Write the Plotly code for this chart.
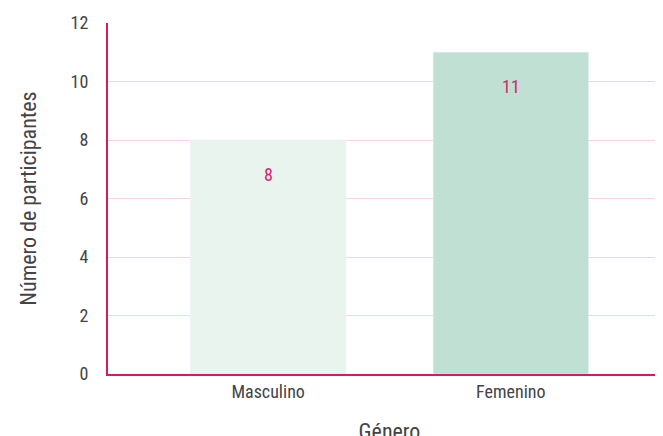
import plotly.graph_objects as go

categories = ["Masculino", "Femenino"]
values = [8, 11]
colors = ["#eaf4ef", "#bfe0d3"]

fig = go.Figure(go.Bar(x=categories, y=values, marker_color=colors, width=0.64, hoverinfo="skip"))
for c, v in zip(categories, values):
    fig.add_annotation(x=c, y=v, text=str(v), showarrow=False, yshift=-34,
                       font=dict(color="#d6246e", size=18))
font = dict(family="Roboto Condensed, Roboto, sans-serif", color="#444", size=18)
fig.update_layout(
    width=663, height=436, margin=dict(l=100, r=0, t=15, b=70, autoexpand=False),
    plot_bgcolor="white", paper_bgcolor="white", font=font, showlegend=False,
    xaxis=dict(range=[-0.66, 1.66], showline=True, linecolor="#d81b60", linewidth=2,
               ticks="", automargin=False, title=dict(text="Género", standoff=36)),
    yaxis=dict(range=[0, 12], dtick=2, showline=True, linecolor="#d81b60", linewidth=2,
               gridcolor="#f6d3df", gridwidth=1, zeroline=False, ticks="", automargin=False,
               ticklabelstandoff=14,
               title=dict(text="Número de participantes", standoff=28)),
)
fig.write_html("out.html")
